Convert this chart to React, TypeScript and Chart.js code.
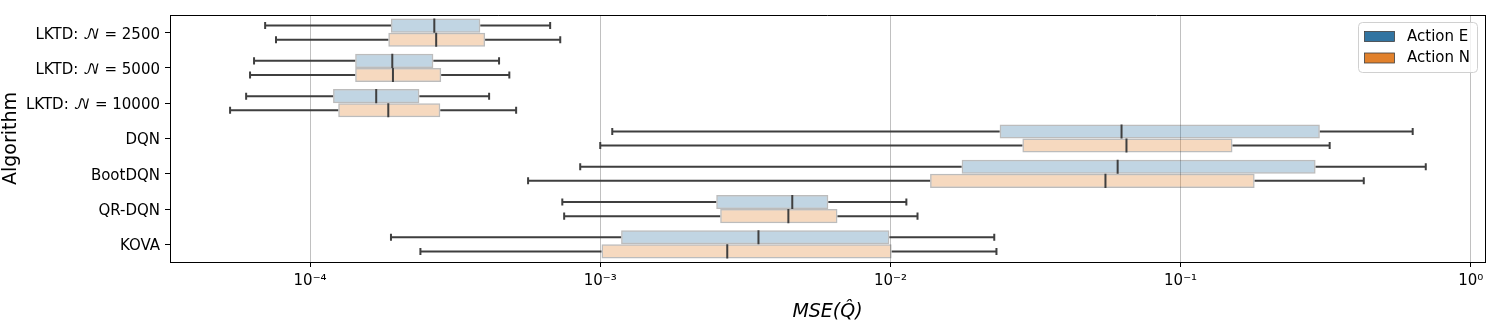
import { useEffect, useRef } from 'react';
import { Chart, registerables } from 'chart.js';

Chart.register(...registerables);

const categories = [
  'LKTD: 𝒩 = 2500',
  'LKTD: 𝒩 = 5000',
  'LKTD: 𝒩 = 10000',
  'DQN',
  'BootDQN',
  'QR-DQN',
  'KOVA',
];
const seriesNames = ['Action E', 'Action N'];

// Action E box statistics
const eLow = [7.0e-5, 6.41e-5, 6.02e-5, 1.1e-3, 8.53e-4, 7.4e-4, 1.9e-4];
const eQ1 = [1.9e-4, 1.43e-4, 1.2e-4, 0.0238, 0.0176, 2.51e-3, 1.18e-3];
const eMed = [2.68e-4, 1.92e-4, 1.69e-4, 0.0626, 0.0607, 4.59e-3, 3.51e-3];
const eQ3 = [3.86e-4, 2.66e-4, 2.38e-4, 0.302, 0.292, 6.11e-3, 9.92e-3];
const eHigh = [6.72e-4, 4.48e-4, 4.14e-4, 0.631, 0.7, 0.01135, 0.0228];

// Action N box statistics
const nLow = [7.63e-5, 6.21e-5, 5.3e-5, 1.0e-3, 5.64e-4, 7.51e-4, 2.4e-4];
const nQ1 = [1.86e-4, 1.43e-4, 1.25e-4, 0.0285, 0.0137, 2.59e-3, 1.01e-3];
const nMed = [2.72e-4, 1.93e-4, 1.86e-4, 0.0651, 0.0551, 4.45e-3, 2.74e-3];
const nQ3 = [4.01e-4, 2.83e-4, 2.81e-4, 0.151, 0.18, 6.57e-3, 0.0101];
const nHigh = [7.28e-4, 4.86e-4, 5.13e-4, 0.3265, 0.428, 0.0124, 0.0232];

const xTicks = [1e-4, 1e-3, 1e-2, 1e-1, 1];
const xTickLabels = ['10⁻⁴', '10⁻³', '10⁻²', '10⁻¹', '10⁰'];
const xMin = 3.29e-5;
const xMax = 1.12;

const FONT = '"DejaVu Sans", "DejaVu Math TeX Gyre", "Noto Sans", sans-serif';
const solidColors = ['#3274a1', '#e1812c'];
const fillColors = ['rgba(50,116,161,0.3)', 'rgba(225,129,44,0.3)'];
const LINE = '#3f3f3f';

const stats = [
  [eLow, eQ1, eMed, eQ3, eHigh],
  [nLow, nQ1, nMed, nQ3, nHigh],
];

const boxPlugin = {
  id: 'boxWhiskers',
  afterDatasetsDraw(chart: any) {
    const ctx = chart.ctx;
    const xs = chart.scales.x;
    chart.data.datasets.forEach((_ds: any, di: number) => {
      const meta = chart.getDatasetMeta(di);
      meta.data.forEach((el: any, i: number) => {
        const { y, height } = el.getProps(['y', 'height'], true);
        const [lo, q1, md, q3, hi] = stats[di].map((a) => xs.getPixelForValue(a[i]));
        const cap = height / 4;
        ctx.save();
        ctx.strokeStyle = LINE;
        ctx.lineWidth = 2;
        ctx.beginPath();
        ctx.moveTo(lo, y);
        ctx.lineTo(q1, y);
        ctx.moveTo(q3, y);
        ctx.lineTo(hi, y);
        ctx.moveTo(lo, y - cap);
        ctx.lineTo(lo, y + cap);
        ctx.moveTo(hi, y - cap);
        ctx.lineTo(hi, y + cap);
        ctx.moveTo(md, y - height / 2);
        ctx.lineTo(md, y + height / 2);
        ctx.stroke();
        ctx.restore();
      });
    });
  },
  afterDraw(chart: any) {
    const ctx = chart.ctx;
    const { left, right, top, bottom } = chart.chartArea;
    ctx.save();
    ctx.strokeStyle = '#000';
    ctx.lineWidth = 1;
    ctx.beginPath();
    ctx.moveTo(left, top + 0.5);
    ctx.lineTo(right + 0.5, top + 0.5);
    ctx.moveTo(right + 0.5, top);
    ctx.lineTo(right + 0.5, bottom);
    ctx.stroke();

    // legend
    const lx = 1358.5;
    const ly = 22.5;
    const lw = 119;
    const lh = 50;
    const r = 4;
    ctx.beginPath();
    ctx.moveTo(lx + r, ly);
    ctx.lineTo(lx + lw - r, ly);
    ctx.arcTo(lx + lw, ly, lx + lw, ly + r, r);
    ctx.lineTo(lx + lw, ly + lh - r);
    ctx.arcTo(lx + lw, ly + lh, lx + lw - r, ly + lh, r);
    ctx.lineTo(lx + r, ly + lh);
    ctx.arcTo(lx, ly + lh, lx, ly + lh - r, r);
    ctx.lineTo(lx, ly + r);
    ctx.arcTo(lx, ly, lx + r, ly, r);
    ctx.closePath();
    ctx.fillStyle = 'rgba(255,255,255,0.8)';
    ctx.fill();
    ctx.strokeStyle = '#d0d0d0';
    ctx.stroke();

    seriesNames.forEach((name, i) => {
      const py = 31.5 + i * 21.5;
      ctx.fillStyle = solidColors[i];
      ctx.fillRect(1364.5, py, 30, 10);
      ctx.strokeStyle = LINE;
      ctx.lineWidth = 0.8;
      ctx.strokeRect(1364.5, py, 30, 10);
      ctx.fillStyle = '#000';
      ctx.font = `15px ${FONT}`;
      ctx.textBaseline = 'middle';
      ctx.textAlign = 'left';
      ctx.fillText(name, 1407, py + 5.5);
    });
    ctx.restore();
  },
};

export default function App() {
  const canvasRef = useRef<HTMLCanvasElement | null>(null);

  useEffect(() => {
    document.body.style.margin = '0';
    const canvas = canvasRef.current;
    if (!canvas) return;
    const chart = new Chart(canvas, {
      type: 'bar',
      data: {
        labels: categories,
        datasets: [
          {
            label: seriesNames[0],
            data: eQ1.map((q, i) => [q, eQ3[i]]),
            backgroundColor: fillColors[0],
            borderColor: 'rgba(63,63,63,0.35)',
            borderWidth: 1.5,
            borderSkipped: false,
            categoryPercentage: 0.8,
            barPercentage: 1,
          },
          {
            label: seriesNames[1],
            data: nQ1.map((q, i) => [q, nQ3[i]]),
            backgroundColor: fillColors[1],
            borderColor: 'rgba(63,63,63,0.35)',
            borderWidth: 1.5,
            borderSkipped: false,
            categoryPercentage: 0.8,
            barPercentage: 1,
          },
        ],
      } as any,
      options: {
        indexAxis: 'y',
        animation: false,
        responsive: false,
        maintainAspectRatio: false,
        layout: { padding: { top: 15, right: 15, left: 0, bottom: 0 } },
        plugins: { legend: { display: false }, tooltip: { enabled: false } },
        scales: {
          x: {
            type: 'logarithmic',
            min: xMin,
            max: xMax,
            afterBuildTicks: (s: any) => {
              s.ticks = xTicks.map((v) => ({ value: v, major: true }));
            },
            afterFit: (s: any) => {
              s.height = 71;
            },
            ticks: {
              autoSkip: false,
              maxRotation: 0,
              color: '#000',
              padding: 5,
              font: { family: FONT, size: 15 },
              callback: (_v: any, i: number) => xTickLabels[i],
            },
            grid: {
              color: 'rgba(176,176,176,0.8)',
              lineWidth: 1,
              tickColor: '#000',
              tickLength: 5,
            },
            border: { color: '#000', width: 1 },
            title: {
              display: true,
              text: 'MSE(Q̂)',
              color: '#000',
              font: { family: FONT, size: 19, style: 'italic' },
              padding: { top: 0, bottom: 10 },
            },
          },
          y: {
            afterFit: (s: any) => {
              s.width = 170;
            },
            ticks: {
              color: '#000',
              padding: 5,
              labelOffset: 2,
              font: { family: FONT, size: 15 },
            },
            grid: {
              offset: false,
              drawOnChartArea: false,
              tickColor: '#000',
              tickLength: 5,
            },
            border: { color: '#000', width: 1 },
            title: {
              display: true,
              text: 'Algorithm',
              color: '#000',
              font: { family: FONT, size: 19 },
              padding: { top: 0, bottom: 0 },
            },
          },
        },
      } as any,
      plugins: [boxPlugin],
    });
    return () => chart.destroy();
  }, []);

  return (
    <div style={{ width: 1500, height: 333 }}>
      <canvas ref={canvasRef} width={1500} height={333} />
    </div>
  );
}
